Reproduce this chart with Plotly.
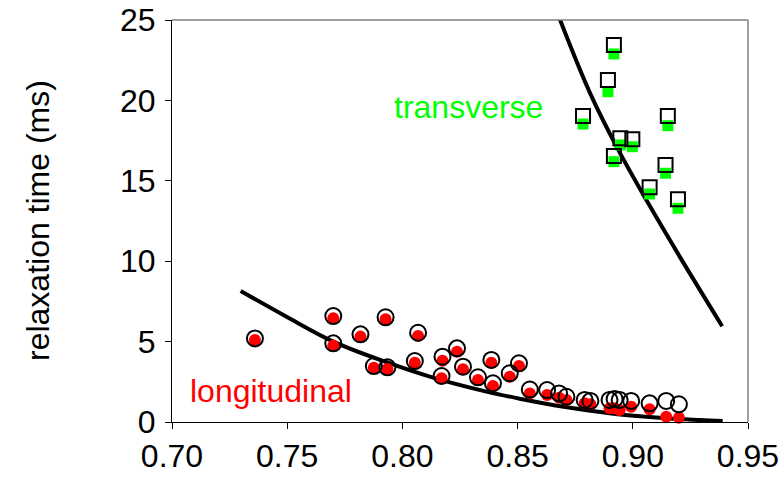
import plotly.graph_objects as go

# ---- data ----
# transverse (hollow squares) and companion filled green values
trans_x = [0.8918, 0.8892, 0.8784, 0.9152, 0.8946, 0.8998, 0.8918, 0.9142, 0.9073, 0.9196]
trans_open_y = [23.45, 21.27, 19.03, 19.03, 17.64, 17.58, 16.54, 15.98, 14.60, 13.85]
trans_fill_y = [22.89, 20.54, 18.53, 18.43, 17.23, 17.12, 16.19, 15.47, 14.18, 13.29]

# longitudinal (hollow circles) and companion filled red values
long_x = [0.7360, 0.7700, 0.7700, 0.7818, 0.7927, 0.8068, 0.7876, 0.7935, 0.8054,
          0.8174, 0.8237, 0.8170, 0.8263, 0.8328, 0.8386, 0.8393, 0.8466, 0.8506,
          0.8553, 0.8628, 0.8680, 0.8712, 0.8791, 0.8816, 0.8899, 0.8921, 0.8943,
          0.8993, 0.9073, 0.9145, 0.9200]
long_open_y = [5.20, 6.59, 4.89, 5.45, 6.51, 5.55, 3.48, 3.40, 3.79,
               4.06, 4.58, 2.86, 3.44, 2.78, 3.86, 2.41, 3.03, 3.65,
               2.02, 1.99, 1.78, 1.57, 1.37, 1.31, 1.37, 1.43, 1.37,
               1.31, 1.16, 1.31, 1.10]
long_fill_y = [5.10, 6.45, 4.75, 5.31, 6.39, 5.35, 3.38, 3.30, 3.69,
               3.81, 4.37, 2.72, 3.28, 2.61, 3.69, 2.24, 2.82, 3.48,
               1.78, 1.68, 1.51, 1.37, 1.16, 1.10, 0.85, 0.85, 0.75,
               0.95, 0.79, 0.33, 0.27]

# fitted curves
trans_curve_x = [0.8683, 0.8813, 0.8936, 0.9059, 0.9203, 0.9388]
trans_curve_y = [25.06, 20.50, 16.95, 13.80, 10.30, 5.95]
long_curve_x = [0.7298, 0.7497, 0.7700, 0.7931, 0.8133, 0.8365, 0.8509, 0.8700, 0.8899, 0.9100, 0.9290, 0.9390]
long_curve_y = [8.15, 6.55, 5.00, 3.72, 2.76, 1.89, 1.45, 0.95, 0.55, 0.28, 0.12, 0.06]

x_ticks = [0.70, 0.75, 0.80, 0.85, 0.90, 0.95]
y_ticks = [0, 5, 10, 15, 20, 25]

FONT = "Liberation Sans, Arial, sans-serif"
FS = 32

fig = go.Figure()

fig.add_trace(go.Scatter(x=trans_curve_x, y=trans_curve_y, mode="lines",
                         line=dict(color="black", width=4, shape="spline"),
                         showlegend=False, hoverinfo="skip"))
fig.add_trace(go.Scatter(x=long_curve_x, y=long_curve_y, mode="lines",
                         line=dict(color="black", width=4, shape="spline"),
                         showlegend=False, hoverinfo="skip"))

fig.add_trace(go.Scatter(x=trans_x, y=trans_fill_y, mode="markers",
                         marker=dict(symbol="square", size=11, color="#00ff00", line=dict(width=0)),
                         showlegend=False, cliponaxis=False))
fig.add_trace(go.Scatter(x=trans_x, y=trans_open_y, mode="markers",
                         marker=dict(symbol="square-open", size=14, color="black", line=dict(width=2)),
                         showlegend=False, cliponaxis=False))

fig.add_trace(go.Scatter(x=long_x, y=long_fill_y, mode="markers",
                         marker=dict(symbol="circle", size=12, color="#ff0000", line=dict(width=0)),
                         showlegend=False, cliponaxis=False))
fig.add_trace(go.Scatter(x=long_x, y=long_open_y, mode="markers",
                         marker=dict(symbol="circle-open", size=16, color="black", line=dict(width=2)),
                         showlegend=False, cliponaxis=False))

fig.add_annotation(x=0.8288, y=19.6, text="transverse", showarrow=False,
                   font=dict(family=FONT, size=FS, color="#00ff00"),
                   xanchor="center", yanchor="middle")
fig.add_annotation(x=0.7429, y=1.9, text="longitudinal", showarrow=False,
                   font=dict(family=FONT, size=FS, color="#ff0000"),
                   xanchor="center", yanchor="middle")
# y-axis title placed as in the reference
fig.add_annotation(xref="paper", yref="paper", x=-0.2326, y=0.5, text="relaxation time (ms)",
                   textangle=-90, showarrow=False, xanchor="center", yanchor="middle",
                   font=dict(family=FONT, size=FS, color="black"))

# gray top and right frame lines
fig.add_shape(type="line", xref="x domain", yref="y domain", x0=0, x1=1, y0=1, y1=1,
              line=dict(color="#808080", width=1.5))
fig.add_shape(type="line", xref="x domain", yref="y domain", x0=1, x1=1, y0=0, y1=1,
              line=dict(color="#808080", width=1.5))

fig.update_layout(
    width=780, height=482,
    margin=dict(l=172, r=32, t=20, b=60, autoexpand=False),
    paper_bgcolor="white", plot_bgcolor="white",
    font=dict(family=FONT, size=FS, color="black"),
    showlegend=False,
)
fig.update_xaxes(range=[0.70, 0.95], tickvals=x_ticks, ticktext=[f"{v:.2f}" for v in x_ticks],
                 showgrid=False, zeroline=False, showline=True, linecolor="black", linewidth=1,
                 ticks="outside", ticklen=6, tickcolor="black", automargin=False,
                 ticklabeloverflow="allow",
                 tickfont=dict(family=FONT, size=FS, color="black"))
fig.update_yaxes(range=[0, 25], tickvals=y_ticks, ticktext=[str(v) for v in y_ticks],
                 showgrid=False, zeroline=False, showline=True, linecolor="black", linewidth=1,
                 ticks="outside", ticklen=6, tickcolor="black", automargin=False,
                 ticklabeloverflow="allow", ticklabelstandoff=3,
                 tickfont=dict(family=FONT, size=FS, color="black"))

# remove the default page margin so the figure sits at the window's top-left corner
fig.write_html("out.html",
               config={"displayModeBar": False},
               post_script="document.body.style.margin='0';"
                           "document.documentElement.style.overflow='hidden';")
